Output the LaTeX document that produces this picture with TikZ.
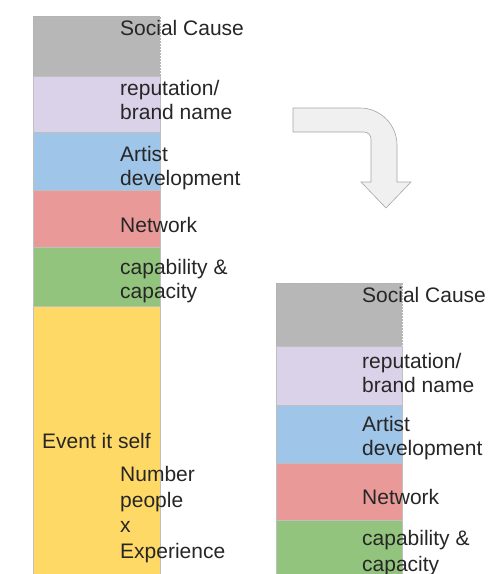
\documentclass[tikz,border=0pt]{standalone}
\usepackage{fontspec}
\setmainfont{Liberation Sans}
\usepackage{tikz}
\usepackage{xcolor}

\definecolor{CauseGray}{HTML}{B7B7B7}
\definecolor{RepLilac}{HTML}{D9D2E9}
\definecolor{ArtBlue}{HTML}{9FC5E8}
\definecolor{NetRed}{HTML}{EA9999}
\definecolor{CapGreen}{HTML}{93C47D}
\definecolor{EventYellow}{HTML}{FFD966}

\tikzset{
  block/.style={draw=black!25, line width=0.5pt, inner sep=0pt, anchor=north west},
  % base anchor sits on the last line, so y is the last baseline
  lbl/.style={anchor=base west, align=left, inner sep=0pt, text=black!85,
    font=\fontsize{21}{24}\selectfont},
  widelbl/.style={lbl, font=\fontsize{21}{25.5}\selectfont},
}

\begin{document}
\begin{tikzpicture}[x=1pt, y=-1pt]
			\useasboundingbox (0,0) rectangle (495,574);
			\clip (0,0) rectangle (495,574);
			% left stack
			\node[block, fill=CauseGray, draw=black!30, densely dotted, minimum width=127pt, minimum height=60pt] (lcause) at (33,16) {};
			\node[block, fill=RepLilac, minimum width=127pt, minimum height=56pt] (lrep) at (33,76) {};
			\node[block, fill=ArtBlue, minimum width=127pt, minimum height=58pt] (lart) at (33,132) {};
			\node[block, fill=NetRed, minimum width=127pt, minimum height=57pt] (lnet) at (33,190) {};
			\node[block, fill=CapGreen, minimum width=127pt, minimum height=59pt] (lcap) at (33,247) {};
			\node[block, fill=EventYellow, minimum width=127pt, minimum height=290pt] (levent) at (33,306) {};
			% right stack
			\node[block, fill=CauseGray, draw=black!30, densely dotted, minimum width=126pt, minimum height=63pt] (rcause) at (276,283) {};
			\node[block, fill=RepLilac, minimum width=126pt, minimum height=59pt] (rrep) at (276,346) {};
			\node[block, fill=ArtBlue, minimum width=126pt, minimum height=58pt] (rart) at (276,405) {};
			\node[block, fill=NetRed, minimum width=126pt, minimum height=57pt] (rnet) at (276,463) {};
			\node[block, fill=CapGreen, minimum width=126pt, minimum height=80pt] (rcap) at (276,520) {};
			% bent arrow
			\draw[fill=black!6, draw=black!35, line width=0.6pt] (293,108) -- (360,108)
			  .. controls (380.4,108) and (397,124.6) .. (397,145) -- (397,182) -- (411,182)
			  -- (386,208) -- (361,182) -- (371,182) -- (371,139)
			  .. controls (371,135.1) and (367.9,132) .. (364,132) -- (293,132) -- cycle;
			% labels
			\node[lbl] (tlcause) at (120,35) {Social Cause};
			\node[lbl] (tlrep) at (120,119.5) {reputation/\\brand name};
			\node[lbl] (tlart) at (120,185.5) {Artist\\development};
			\node[lbl] (tlnet) at (120,232) {Network};
			\node[lbl] (tlcap) at (120,298.5) {capability \&\\capacity};
			\node[lbl] (tlevent) at (42,448) {Event it self};
			\node[widelbl] (tlnum) at (120,558) {Number\\people\\x\\Experience};
			\node[lbl] (trcause) at (362,302) {Social Cause};
			\node[lbl] (trrep) at (362,392) {reputation/\\brand name};
			\node[lbl] (trart) at (362,455) {Artist\\development};
			\node[lbl] (trnet) at (362,504) {Network};
			\node[widelbl] (trcap) at (362,571) {capability \&\\capacity};
		\end{tikzpicture}
\end{document}
